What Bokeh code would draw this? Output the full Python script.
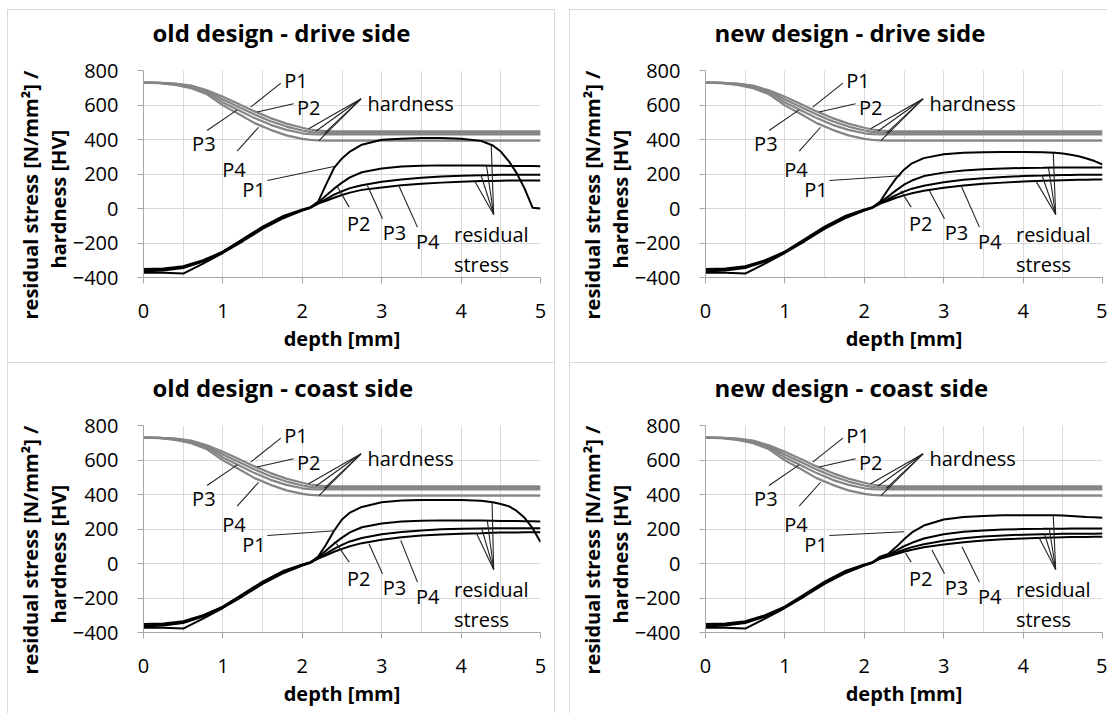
from bokeh.plotting import figure
from bokeh.layouts import row, column
from bokeh.models import Range1d, FixedTicker, Title
from bokeh.core.properties import value
from bokeh.embed import file_html
from bokeh.resources import INLINE

FONT = "Open Sans"
TXT = "#000000"

# ---------------- data ----------------
TITLES = ["old design - drive side", "new design - drive side",
          "old design - coast side", "new design - coast side"]
Y_TITLE_1 = "residual stress [N/mm²] /"
Y_TITLE_2 = "hardness [HV]"
X_TITLE = "depth [mm]"
X_TICKS = [0, 1, 2, 3, 4, 5]
X_MINOR = [0.5, 1.5, 2.5, 3.5, 4.5]
Y_TICKS = [-400, -200, 0, 200, 400, 600, 800]

# hardness (same in every panel)
DEPTH_H = [0.0, 0.2, 0.4, 0.6, 0.8, 1.0, 1.2, 1.4, 1.6, 1.8, 2.0, 2.1, 2.2, 2.3, 2.4, 5.0]
HARD_P1 = [730, 729, 724, 712, 685, 648, 606, 563, 524, 492, 468, 458, 451, 448, 447, 447]
HARD_P2 = [730, 729, 722, 708, 680, 632, 588, 545, 506, 475, 452, 444, 439, 437, 437, 437]
HARD_P3 = [730, 728, 720, 703, 672, 615, 570, 524, 485, 456, 436, 431, 429, 429, 429, 429]
HARD_P4 = [730, 727, 717, 697, 662, 598, 548, 495, 456, 424, 404, 398, 395, 394, 394, 394]

# residual stress depth grid
DEPTH_S_LOW = [0.0, 0.25, 0.5, 0.75, 1.0, 1.25, 1.5, 1.75, 2.0, 2.1, 2.2]
DEPTH_S_HIGH = [2.3, 2.4, 2.5, 2.6, 2.75, 3.0, 3.25, 3.5, 3.75, 4.0, 4.25, 4.4, 4.5, 4.6, 4.7, 4.8, 4.9, 5.0]

# near-surface part (similar in all panels)
RS_LOW_P1 = [-350, -348, -335, -300, -250, -182, -110, -50, -8, 5, 40]
RS_LOW_P2 = [-358, -355, -340, -305, -255, -185, -112, -52, -10, 5, 35]
RS_LOW_P3 = [-365, -360, -345, -308, -250, -178, -105, -45, -5, 8, 30]
RS_LOW_P4 = [-372, -372, -377, -320, -258, -190, -118, -58, -12, 3, 28]

# deeper part, per panel
OLD_DRIVE_P1 = [140, 235, 290, 330, 370, 398, 405, 408, 408, 405, 392, 365, 330, 275, 205, 115, 5, 0]
OLD_DRIVE_P2 = [75, 115, 150, 180, 210, 232, 243, 248, 250, 250, 249, 248, 248, 247, 247, 246, 246, 245]
OLD_DRIVE_P3 = [55, 80, 100, 118, 135, 155, 168, 178, 185, 190, 193, 194, 195, 195, 195, 195, 195, 195]
OLD_DRIVE_P4 = [45, 62, 78, 92, 108, 122, 135, 144, 150, 155, 159, 160, 161, 162, 162, 163, 163, 163]

NEW_DRIVE_P1 = [110, 175, 225, 262, 292, 315, 323, 326, 327, 327, 326, 323, 319, 312, 303, 290, 275, 255]
NEW_DRIVE_P2 = [70, 105, 138, 162, 188, 208, 220, 228, 232, 235, 236, 237, 237, 237, 238, 238, 238, 238]
NEW_DRIVE_P3 = [55, 78, 98, 115, 132, 152, 166, 176, 183, 188, 191, 193, 194, 194, 195, 195, 195, 195]
NEW_DRIVE_P4 = [45, 62, 76, 88, 103, 120, 133, 143, 150, 156, 161, 163, 164, 165, 166, 167, 168, 168]

OLD_COAST_P1 = [110, 190, 255, 295, 328, 355, 365, 368, 368, 368, 364, 355, 345, 332, 305, 265, 205, 125]
OLD_COAST_P2 = [75, 115, 150, 180, 210, 232, 243, 248, 250, 250, 249, 248, 247, 247, 246, 245, 245, 244]
OLD_COAST_P3 = [58, 85, 108, 128, 148, 170, 183, 192, 198, 201, 203, 204, 204, 205, 205, 205, 205, 205]
OLD_COAST_P4 = [48, 68, 85, 100, 118, 138, 152, 162, 168, 173, 176, 178, 179, 180, 180, 181, 181, 181]

NEW_COAST_P1 = [55, 95, 140, 180, 220, 255, 270, 276, 279, 280, 280, 279, 278, 276, 273, 270, 268, 265]
NEW_COAST_P2 = [50, 75, 100, 120, 145, 170, 184, 192, 197, 200, 201, 202, 202, 203, 203, 203, 203, 203]
NEW_COAST_P3 = [45, 62, 80, 95, 112, 132, 146, 156, 163, 167, 170, 171, 172, 172, 173, 173, 173, 174]
NEW_COAST_P4 = [40, 55, 68, 80, 94, 110, 123, 133, 140, 145, 149, 151, 152, 153, 154, 154, 155, 155]

STRESS_HIGH = [
    [OLD_DRIVE_P1, OLD_DRIVE_P2, OLD_DRIVE_P3, OLD_DRIVE_P4],
    [NEW_DRIVE_P1, NEW_DRIVE_P2, NEW_DRIVE_P3, NEW_DRIVE_P4],
    [OLD_COAST_P1, OLD_COAST_P2, OLD_COAST_P3, OLD_COAST_P4],
    [NEW_COAST_P1, NEW_COAST_P2, NEW_COAST_P3, NEW_COAST_P4],
]
STRESS_LOW = [RS_LOW_P1, RS_LOW_P2, RS_LOW_P3, RS_LOW_P4]

# annotation labels (data coordinates)
P_LABEL_TEXT = ["P1", "P2", "P3", "P4", "P1", "P2", "P3", "P4"]
P_LABEL_X = [1.92, 2.08, 0.76, 1.14, 1.39, 2.71, 3.16, 3.58]
P_LABEL_Y = [742, 588, 375, 228, 110, -89, -137, -190]
HARD_LEAD_X0 = [1.73, 1.89, 0.80, 1.18]
HARD_LEAD_Y0 = [727, 607, 452, 332]
HARD_LEAD_X1 = [1.35, 1.43, 1.18, 1.45]
HARD_LEAD_Y1 = [588, 559, 572, 471]
RS_LEAD_X0 = [1.56, 2.59, 3.01, 3.45]
RS_LEAD_Y0 = [162, 8, -60, -108]
RS_LEAD_X1 = [[2.40, 2.44, 2.82, 3.22], [2.46, 2.46, 2.82, 3.22],
              [2.41, 2.43, 2.84, 3.24], [2.50, 2.52, 2.85, 3.23]]
RS_LEAD_Y1 = [[243, 128, 133, 128], [190, 103, 103, 132],
              [190, 115, 115, 134], [184, 60, 80, 97]]
HARD_FAN_FROM = (2.74, 636)
HARD_FAN_X = [2.08, 2.17, 2.28, 2.21]
HARD_FAN_Y = [462, 448, 437, 394]
RS_FAN_FROM = (4.41, -35)
RS_FAN_X = [[4.17, 4.25, 4.32, 4.38], [4.16, 4.24, 4.32, 4.38],
            [4.19, 4.26, 4.33, 4.39], [4.20, 4.27, 4.33, 4.38]]
RS_FAN_Y = [[160, 194, 249, 362], [160, 190, 236, 323],
            [178, 203, 249, 356], [151, 171, 202, 279]]
WORD_TEXT = ["hardness", "residual", "stress"]
WORD_X = [2.82, 3.91, 3.91]
WORD_Y = [607, -149, -323]

LINE_C = "#d9d9d9"


def box_bg(top_px, right_line):
    g = "linear-gradient(%s,%s)" % (LINE_C, LINE_C)
    parts = ["%s 0px %dpx / 100%% 1px no-repeat" % (g, top_px),
             "%s 0px %dpx / 1px 100%% no-repeat" % (g, top_px)]
    if right_line:
        parts.append("%s right 0px top %dpx / 1px 100%% no-repeat" % (g, top_px))
    return ", ".join(parts)


def y_title(text, offset, valign, standoff, fallback):
    t = Title(text=text, align="left", offset=offset, vertical_align=valign,
              text_font=FONT, text_font_size="20px", text_font_style="bold", text_color=TXT)
    try:
        t.standoff = standoff
    except Exception:
        t.standoff = fallback
    return t


def make_panel(i, width, height, min_top, min_bottom, min_right, right_line):
    p = figure(width=width, height=height, x_range=Range1d(0, 5), y_range=Range1d(-400, 800),
               output_backend="svg", toolbar_location=None,
               min_border_left=136, min_border_right=min_right,
               min_border_top=min_top, min_border_bottom=min_bottom)
    p.outline_line_color = None
    p.background_fill_color = "white"
    p.border_fill_alpha = 0.0
    p.styles = {"background": box_bg(15, right_line)}

    # panel title
    p.title.text = TITLES[i]
    p.title.align = "left"
    p.title.offset = 9
    p.title.vertical_align = "top"
    p.title.standoff = 40
    p.title.text_font = FONT
    p.title.text_font_size = "24px"
    p.title.text_font_style = "bold"
    p.title.text_color = TXT

    p.xaxis.ticker = FixedTicker(ticks=X_TICKS, minor_ticks=X_MINOR)
    p.yaxis.ticker = FixedTicker(ticks=Y_TICKS, minor_ticks=[])
    p.xgrid.ticker = FixedTicker(ticks=X_TICKS, minor_ticks=X_MINOR)
    p.xgrid.grid_line_color = "#d9d9d9"
    p.xgrid.minor_grid_line_color = "#d9d9d9"
    p.ygrid.grid_line_color = "#d9d9d9"
    for ax in (p.xaxis, p.yaxis):
        ax.minor_tick_line_color = None
        ax.major_tick_out = 6
        ax.major_tick_in = 0
        ax.axis_line_color = "#a6a6a6"
        ax.major_tick_line_color = "#a6a6a6"
        ax.major_label_text_font = FONT
        ax.major_label_text_font_size = "20px"
        ax.major_label_text_color = TXT
    p.yaxis.major_label_standoff = 19
    p.xaxis.major_label_standoff = 20
    p.xaxis.axis_label = X_TITLE
    p.xaxis.axis_label_text_font = FONT
    p.xaxis.axis_label_text_font_size = "20px"
    p.xaxis.axis_label_text_font_style = "bold"
    p.xaxis.axis_label_text_color = TXT
    p.xaxis.axis_label_standoff = 4

    # two-line y axis title
    p.add_layout(y_title(Y_TITLE_2, 9, "bottom", -4, 0), "left")
    p.add_layout(y_title(Y_TITLE_1, -42, "bottom", 2, 0), "left")

    # hardness curves
    for h in (HARD_P1, HARD_P2, HARD_P3, HARD_P4):
        p.line(DEPTH_H, h, line_color="#858585", line_width=2.2)
    # residual stress curves
    xs = DEPTH_S_LOW + DEPTH_S_HIGH
    for k in range(4):
        p.line(xs, STRESS_LOW[k] + STRESS_HIGH[i][k], line_color="#000000", line_width=2)

    # leader lines
    lw = 1.1
    lc = "#222222"
    p.segment(HARD_LEAD_X0, HARD_LEAD_Y0, HARD_LEAD_X1, HARD_LEAD_Y1, line_color=lc, line_width=lw)
    p.segment(RS_LEAD_X0, RS_LEAD_Y0, RS_LEAD_X1[i], RS_LEAD_Y1[i], line_color=lc, line_width=lw)
    p.segment([HARD_FAN_FROM[0]] * 4, [HARD_FAN_FROM[1]] * 4, HARD_FAN_X, HARD_FAN_Y,
              line_color=lc, line_width=lw)
    p.segment([RS_FAN_FROM[0]] * 4, [RS_FAN_FROM[1]] * 4, RS_FAN_X[i], RS_FAN_Y[i],
              line_color=lc, line_width=lw)

    p.text(P_LABEL_X, P_LABEL_Y, text=P_LABEL_TEXT, text_font=value(FONT), text_font_size="20px",
           text_color=TXT, text_align="center", text_baseline="middle")
    p.text(WORD_X, WORD_Y, text=WORD_TEXT, text_font=value(FONT), text_font_size="20px",
           text_color=TXT, text_align="left", text_baseline="middle")
    return p


# top row canvases start 6px above the window, bottom row overlaps by 15px
p1 = make_panel(0, 548, 368, 76, 85, 15, True)
p2 = make_panel(1, 538, 368, 76, 85, 5, False)
p3 = make_panel(2, 548, 366, 78, 81, 15, True)
p4 = make_panel(3, 538, 366, 78, 81, 5, False)

p1.margin = (-6, 14, 0, 7)
p2.margin = (-6, 0, 0, 0)
p3.margin = (-15, 14, 0, 7)
p4.margin = (-15, 0, 0, 0)

layout = column(row(p1, p2), row(p3, p4))

open("out.html", "w").write(file_html(layout, INLINE))
